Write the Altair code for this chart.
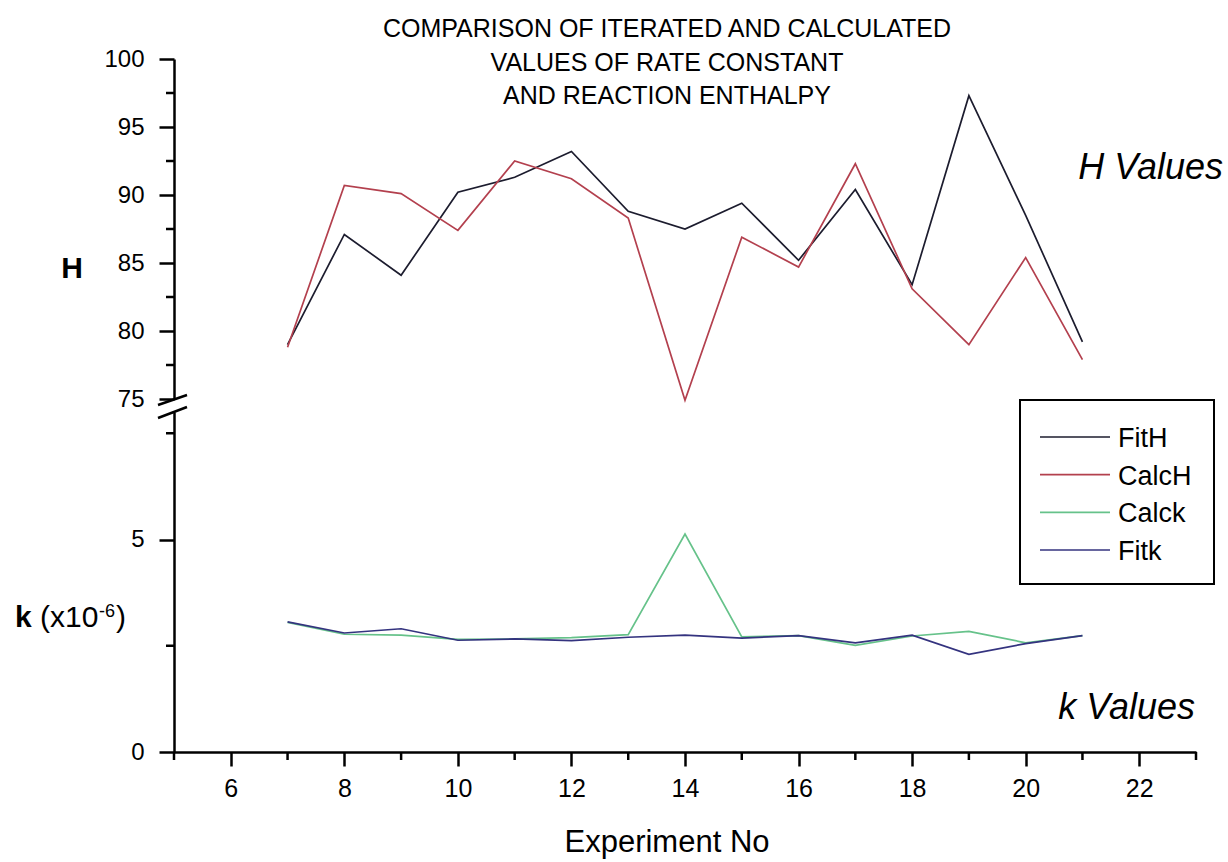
import altair as alt
import pandas as pd

# ---------------- data ----------------
experiments = list(range(7, 22))
fit_h = [79.0, 87.1, 84.1, 90.2, 91.3, 93.2, 88.8, 87.5, 89.4, 85.2, 90.4, 83.4, 97.3, 88.5, 79.2]
calc_h = [78.8, 90.7, 90.1, 87.4, 92.5, 91.2, 88.3, 74.9, 86.9, 84.7, 92.3, 83.1, 79.0, 85.4, 77.9]
calc_k = [3.05, 2.77, 2.75, 2.65, 2.66, 2.69, 2.76, 5.13, 2.71, 2.74, 2.51, 2.73, 2.84, 2.57, 2.74]
fit_k = [3.06, 2.80, 2.90, 2.63, 2.66, 2.62, 2.70, 2.75, 2.68, 2.74, 2.57, 2.75, 2.30, 2.55, 2.74]

series_names = ["FitH", "CalcH", "Calck", "Fitk"]
series_colors = ["#1c1c2e", "#b3404e", "#66c28a", "#34337f"]

title_lines = ["COMPARISON OF ITERATED AND CALCULATED",
               "VALUES OF RATE CONSTANT",
               "AND REACTION ENTHALPY"]

x_major = [6, 8, 10, 12, 14, 16, 18, 20, 22]
x_minor = [5, 7, 9, 11, 13, 15, 17, 19, 21, 23]
h_major = [75, 80, 85, 90, 95, 100]
h_minor = [77.5, 82.5, 87.5, 92.5, 97.5]
k_major = [0, 5]
k_minor = [2.5, 7.5]

FONT = "Liberation Sans"
W, HU, HL = 1022, 340, 340

rows_h = []
for name, vals in [("FitH", fit_h), ("CalcH", calc_h)]:
    for e, v in zip(experiments, vals):
        rows_h.append({"exp": e, "series": name, "value": v})
h_df = pd.DataFrame(rows_h)

rows_k = []
for name, vals in [("Calck", calc_k), ("Fitk", fit_k)]:
    for e, v in zip(experiments, vals):
        rows_k.append({"exp": e, "series": name, "value": v})
k_df = pd.DataFrame(rows_k)

xscale = alt.Scale(domain=[5, 23], nice=False, zero=False)
h_scale = alt.Scale(domain=[75, 100], nice=False, zero=False)
k_scale = alt.Scale(domain=[0, 8], nice=False, zero=False)
color_scale = alt.Scale(domain=series_names, range=series_colors)

axis_style = dict(domainColor="black", domainWidth=2.5, tickColor="black", tickWidth=2.5,
                  labelColor="black", labelFont=FONT, grid=False, title=None)

h_axis = alt.Axis(values=h_major, tickSize=15, labelFontSize=24, labelPadding=15, **axis_style)
k_axis = alt.Axis(values=k_major, tickSize=15, labelFontSize=24, labelPadding=15, **axis_style)
x_axis = alt.Axis(values=x_major, tickSize=14, labelFontSize=25, labelPadding=10, **axis_style)

one = alt.Data(values=[{}])


def series_line(df, name, yscale, yaxis, xaxis):
    return alt.Chart(df).transform_filter(alt.datum.series == name).mark_line(
        strokeWidth=1.7, clip=False
    ).encode(
        x=alt.X("exp:Q", scale=xscale, axis=xaxis),
        y=alt.Y("value:Q", scale=yscale, axis=yaxis),
        color=alt.Color("series:N", scale=color_scale, legend=None),
        order="exp:Q",
    )


# ---------------- upper panel (H) ----------------
canvas = alt.Chart(one).mark_rect(opacity=0).encode(
    x=alt.value(-174), x2=alt.value(1054), y=alt.value(-59), y2=alt.value(803)
)
h_minor_ticks = alt.Chart(pd.DataFrame({"v": h_minor})).mark_rule(
    color="black", strokeWidth=2.5
).encode(y=alt.Y("v:Q", scale=h_scale, axis=h_axis), x=alt.value(-8), x2=alt.value(0))

title_text = alt.Chart(one).mark_text(
    text="\n".join(title_lines), lineBreak="\n", lineHeight=33.5, font=FONT, fontSize=25,
    align="center", baseline="top", color="black"
).encode(x=alt.value(493), y=alt.value(-42))

h_values_text = alt.Chart(one).mark_text(
    text="H Values", font=FONT, fontSize=36, fontStyle="italic", align="right",
    baseline="middle", color="black"
).encode(x=alt.value(1049), y=alt.value(109))

h_title = alt.Chart(one).mark_text(
    text="H", font=FONT, fontSize=30, fontWeight="bold", align="center", baseline="middle",
    color="black"
).encode(x=alt.value(-102), y=alt.value(210))

upper = alt.layer(
    canvas,
    series_line(h_df, "FitH", h_scale, h_axis, None),
    series_line(h_df, "CalcH", h_scale, h_axis, None),
    h_minor_ticks,
    title_text,
    h_values_text,
    h_title,
).properties(width=W, height=HU)

# ---------------- lower panel (k) ----------------
k_minor_ticks = alt.Chart(pd.DataFrame({"v": k_minor})).mark_rule(
    color="black", strokeWidth=2.5
).encode(y=alt.Y("v:Q", scale=k_scale, axis=k_axis), x=alt.value(-8), x2=alt.value(0))

x_minor_ticks = alt.Chart(pd.DataFrame({"v": x_minor})).mark_rule(
    color="black", strokeWidth=2.5
).encode(x=alt.X("v:Q", scale=xscale, axis=x_axis), y=alt.value(HL), y2=alt.value(HL + 8))

break1 = alt.Chart(one).mark_rule(color="black", strokeWidth=2.5).encode(
    x=alt.value(-16), y=alt.value(-7), x2=alt.value(13), y2=alt.value(-17))
break2 = alt.Chart(one).mark_rule(color="black", strokeWidth=2.5).encode(
    x=alt.value(-16), y=alt.value(6), x2=alt.value(13), y2=alt.value(-5))

k_values_text = alt.Chart(one).mark_text(
    text="k Values", font=FONT, fontSize=36, fontStyle="italic", align="right",
    baseline="middle", color="black"
).encode(x=alt.value(1021), y=alt.value(296))

x_title = alt.Chart(one).mark_text(
    text="Experiment No", font=FONT, fontSize=31, align="center", baseline="middle",
    color="black"
).encode(x=alt.value(493), y=alt.value(431))

k_lab_k = alt.Chart(one).mark_text(
    text="k", font=FONT, fontSize=30, fontWeight="bold", align="left", baseline="alphabetic",
    color="black").encode(x=alt.value(-159), y=alt.value(215))
k_lab_x = alt.Chart(one).mark_text(
    text="(x10", font=FONT, fontSize=30, align="left", baseline="alphabetic",
    color="black").encode(x=alt.value(-134), y=alt.value(215))
k_lab_sup = alt.Chart(one).mark_text(
    text="-6", font=FONT, fontSize=18, align="left", baseline="alphabetic",
    color="black").encode(x=alt.value(-75), y=alt.value(205))
k_lab_close = alt.Chart(one).mark_text(
    text=")", font=FONT, fontSize=30, align="left", baseline="alphabetic",
    color="black").encode(x=alt.value(-58), y=alt.value(215))

# manual legend
leg_box = alt.Chart(one).mark_rect(fill=None, stroke="black", strokeWidth=2).encode(
    x=alt.value(846), x2=alt.value(1040), y=alt.value(-12), y2=alt.value(172))
leg_df = pd.DataFrame({"series": series_names})
leg_y = alt.Y("series:N",
              scale=alt.Scale(type="point", domain=series_names, range=[25, 138],
                              padding=0, paddingOuter=0),
              axis=None)
leg_lines = alt.Chart(leg_df).mark_rule(strokeWidth=1.7).encode(
    y=leg_y, x=alt.value(866), x2=alt.value(936),
    color=alt.Color("series:N", scale=color_scale, legend=None))
leg_text = alt.Chart(leg_df).mark_text(
    font=FONT, fontSize=27, align="left", baseline="middle", dy=2, color="black"
).encode(y=leg_y, x=alt.value(944), text="series:N")

lower_main = alt.layer(
    series_line(k_df, "Calck", k_scale, k_axis, x_axis),
    series_line(k_df, "Fitk", k_scale, k_axis, x_axis),
    k_minor_ticks,
    x_minor_ticks,
    break1, break2,
    k_values_text, x_title,
    k_lab_k, k_lab_x, k_lab_sup, k_lab_close,
    leg_box,
)
legend_layer = alt.layer(leg_lines, leg_text)

lower = alt.layer(lower_main, legend_layer).resolve_scale(y="independent").properties(
    width=W, height=HL)

chart = alt.vconcat(upper, lower, spacing=13, bounds="flush").properties(
    padding=0, background="white"
).configure_view(strokeWidth=0, stroke="transparent")

chart.save("out.html", embed_options={"renderer": "svg", "actions": False})
